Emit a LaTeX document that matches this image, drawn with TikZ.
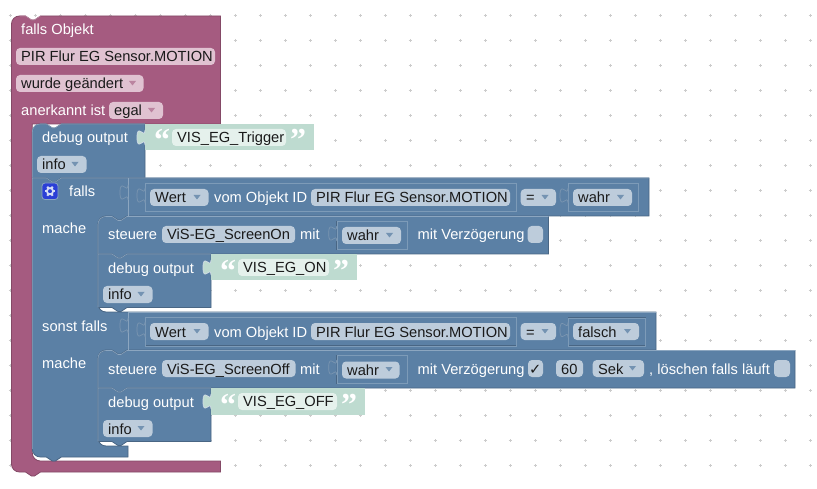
\documentclass[tikz,border=0pt]{standalone}
\usepackage{fontspec}
\setmainfont{Liberation Sans}
\newfontfamily\quotefont[Scale=1]{Liberation Serif}
\newfontfamily\checkfont{DejaVu Sans}
\definecolor{pur}{HTML}{A55B80}
\definecolor{purD}{HTML}{844966}
\definecolor{purL}{HTML}{C08CA6}
\definecolor{purF}{HTML}{E0C2D1}
\definecolor{blu}{HTML}{5B80A5}
\definecolor{bluD}{HTML}{496684}
\definecolor{bluL}{HTML}{8CA6C0}
\definecolor{bluF}{HTML}{BDCCDB}
\definecolor{grn}{HTML}{BEDBD0}
\definecolor{grnF}{HTML}{E5F1EC}
\definecolor{txtdark}{HTML}{1A1A1A}
\definecolor{gearbg}{HTML}{2B3FD6}
\definecolor{gearfg}{HTML}{D5DCF5}
\tikzset{
  wtxt/.style={anchor=base west,inner sep=0pt,text=white,font=\fontsize{14.67}{17}\selectfont},
  ktxt/.style={anchor=base west,inner sep=0pt,text=txtdark,font=\fontsize{14.67}{17}\selectfont},
  qtxt/.style={anchor=base west,inner sep=0pt,text=white,font=\quotefont\bfseries\fontsize{32}{32}\selectfont},
  ptfill/.style={fill=pur,draw=purD,line width=.8pt},
  blfill/.style={fill=blu,draw=bluD,line width=.8pt},
  ltline/.style={draw=bluL,line width=.6pt},
  ddp/.style={fill=pur!75!white},
  ddb/.style={fill=blu!85!white},
}
\newcommand{\notchLR}[2]{-- (#1+14,#2) -- (#1+20,#2+4) -- (#1+23,#2+4) -- (#1+29,#2)}
\newcommand{\notchRL}[2]{-- (#1+29,#2) -- (#1+23,#2+4) -- (#1+20,#2+4) -- (#1+14,#2)}
\newcommand{\tabpath}[2]{(#1,#2) .. controls (#1,#2+10) and (#1-8,#2-8) .. (#1-8,#2+7.5) .. controls (#1-8,#2+23) and (#1,#2+5) .. (#1,#2+15)}
\newcommand{\stackb}[4]{% left,right,top,bottom
  \path[blfill] (#1,#3+8) .. controls (#1,#3+3.5) and (#1+3.5,#3) .. (#1+8,#3) \notchLR{#1}{#3} -- (#2,#3) -- (#2,#4) \notchRL{#1}{#4} -- (#1,#4) -- cycle;
  \draw[ltline] (#1,#4) -- (#1,#3+8) .. controls (#1,#3+3.5) and (#1+3.5,#3) .. (#1+8,#3) \notchLR{#1}{#3} -- (#2,#3);
}
\newcommand{\flatb}[4]{% square top-left variant
  \path[blfill] (#1,#3) \notchLR{#1}{#3} -- (#2,#3) -- (#2,#4) \notchRL{#1}{#4} -- (#1,#4) -- cycle;
  \draw[ltline] (#1,#4) -- (#1,#3) \notchLR{#1}{#3} -- (#2,#3);
}
\newcommand{\fld}[4][bluF]{\fill[#1,rounded corners=4pt] (#2,#4) rectangle (#3,#4+17);}
\newcommand{\arr}[3][ddb]{\fill[#1] (#2-3.5,#3-2) -- (#2+3.5,#3-2) -- (#2,#3+2.5) -- cycle;}
\newcommand{\valrect}[4]{%
  \draw[bluD,line width=.7pt] (#1,#3) rectangle (#2,#4);
  \draw[bluL!70!blu,line width=.5pt] (#1+.7,#3+.7) rectangle (#2+.7,#4+.7);
  \path[fill=blu,draw=bluL!75!bluD,line width=.7pt] \tabpath{#1}{#3+5};
}
\newcommand{\greenb}[6]{% left,right,top,field right,name,text
  \fill[grn] (#1,#3) rectangle (#2,#3+26.5);
  \path[fill=grn,draw=bluL!40!white,line width=.7pt] \tabpath{#1}{#3+6};
  \node[qtxt] (#5a) at (#1+9,#3+27) {“};
  \fld[grnF]{#1+27}{#4}{#3+5}
  \node[ktxt] (#5) at (#1+32,#3+18.5) {#6};
  \node[qtxt] (#5b) at (#4+4,#3+27) {”};
}
\begin{document}
\begin{tikzpicture}[x=1pt,y=-1pt]
\useasboundingbox (0,0) rectangle (817,489);
\fill[white] (0,0) rectangle (817,489);
% grid
\foreach \gx in {10,35,...,810}{\foreach \gy in {15.5,40.5,...,490}{
  \draw[black!20,line width=.6pt] (\gx-1.5,\gy) -- (\gx+1.5,\gy) (\gx,\gy-1.5) -- (\gx,\gy+1.5);}}
% purple block
\path[ptfill] (11.5,24) .. controls (11.5,19.5) and (15,16) .. (19.5,16) \notchLR{11.5}{16} -- (220.5,16) -- (220.5,124) -- (32.3,124) -- (32.3,453) .. controls (32.3,457.5) and (36,461) .. (40.3,461) -- (220.5,461) -- (220.5,472) \notchRL{11.5}{472} -- (19.5,472) .. controls (15,472) and (11.5,468.5) .. (11.5,464) -- cycle;
\draw[purL,line width=.6pt] (19.5,16) \notchLR{11.5}{16};
\node[wtxt] (t1) at (21,35) {falls Objekt};
\fld[purF]{16}{215}{48}
\node[ktxt] (t2) at (21,62) {PIR Flur EG Sensor.MOTION};
\fld[purF]{16}{143.5}{75}
\node[ktxt] (t3) at (21,89) {wurde geändert};
\arr[ddp]{132.5}{83}
\node[wtxt] (t4) at (21,116) {anerkannt ist};
\fld[purF]{109}{163}{102}
\node[ktxt] (t5) at (114,116) {egal};
\arr[ddp]{151.5}{110}
% debug 1
\stackb{32.3}{145}{124}{178}
\greenb{145}{314}{124}{286}{s1}{VIS\_EG\_Trigger}
\node[wtxt] (d1) at (42,143) {debug output};
\fld{37}{86.5}{156}
\node[ktxt] (d1i) at (42,170) {info};
\arr{75}{164}
% falls block
\path[blfill] (32.3,178) \notchLR{32.3}{178} -- (649,178) -- (649,216) \notchRL{98}{216} -- (106,216) .. controls (101.5,216) and (98,219.5) .. (98,224) -- (98,304) .. controls (98,308.5) and (101.5,312) .. (106,312) -- (656,312) -- (656,350) \notchRL{98}{350} -- (106,350) .. controls (101.5,350) and (98,353.5) .. (98,358) -- (98,438) .. controls (98,442.5) and (101.5,446) .. (106,446) -- (128,446) -- (128,457) \notchRL{32.3}{457} -- (40.3,457) .. controls (36,457) and (32.3,453.5) .. (32.3,449) -- cycle;
\draw[ltline] (32.3,449) -- (32.3,178) \notchLR{32.3}{178} -- (649,178);
\draw[ltline] (128,312) -- (656,312);
\draw[bluL,line width=.7pt] (128,178) -- (128,216) (128,312) -- (128,350);
\path[fill=blu,draw=bluL!75!bluD,line width=.7pt] \tabpath{128}{185};
\path[fill=blu,draw=bluL!75!bluD,line width=.7pt] \tabpath{128}{318};
% gear
\fill[gearbg,rounded corners=3pt,draw=bluL,line width=.8pt] (42,183) rectangle (58,199.5);
\foreach \a in {0,60,...,300}{\draw[gearfg,line width=2pt] (50,191.2) ++(\a:2.5) -- ++(\a:2.8);}
\draw[gearfg,line width=1.8pt] (50,191.2) circle (3.1pt);
\node[wtxt] (f1) at (69,197) {falls};
% condition 1
\valrect{145}{516}{183}{211}
\fld{150}{208.5}{189}
\node[ktxt] (c1a) at (155,203) {Wert};
\arr{197}{197}
\node[wtxt] (c1b) at (214,203) {vom Objekt ID};
\fld{311}{510}{189}
\node[ktxt] (c1c) at (316,203) {PIR Flur EG Sensor.MOTION};
\fld{520.7}{556}{189}
\node[ktxt] (c1d) at (526,203) {=};
\arr{545}{197}
\valrect{568}{638}{183}{211}
\fld{573}{632}{189}
\node[ktxt] (c1e) at (578,203) {wahr};
\arr{620.5}{197}
\node[wtxt] (m1) at (42,234) {mache};
% steuere 1
\stackb{98}{548.5}{216.5}{254}
\node[wtxt] (s1t) at (108,240) {steuere};
\fld{162}{295}{226}
\node[ktxt] (s1n) at (167,240) {ViS-EG\_ScreenOn};
\node[wtxt] (s1m) at (300,240) {mit};
\valrect{336.7}{407}{221}{249}
\fld{342}{401}{227}
\node[ktxt] (s1w) at (347,241) {wahr};
\arr{389.5}{235}
\node[wtxt] (s1v) at (417.5,240) {mit Verzögerung};
\fill[bluF,rounded corners=4pt] (527.7,226) rectangle (543,243);
% debug 2
\flatb{98}{211}{254}{307.5}
\greenb{211}{357}{254}{329}{s2}{VIS\_EG\_ON}
\node[wtxt] (d2) at (108,273) {debug output};
\fld{103}{152.5}{286}
\node[ktxt] (d2i) at (108,300) {info};
\arr{141}{294}
% sonst falls
\node[wtxt] (f2) at (42,331) {sonst falls};
\valrect{145}{516}{317}{345.5}
\fld{150}{208.5}{323}
\node[ktxt] (c2a) at (155,337) {Wert};
\arr{197}{331}
\node[wtxt] (c2b) at (214,337) {vom Objekt ID};
\fld{311}{510}{323}
\node[ktxt] (c2c) at (316,337) {PIR Flur EG Sensor.MOTION};
\fld{520.7}{556}{323}
\node[ktxt] (c2d) at (526,337) {=};
\arr{545}{331}
\valrect{568}{645}{317.5}{345.5}
\fld{573}{639}{323}
\node[ktxt] (c2e) at (578,337) {falsch};
\arr{627.5}{331}
\node[wtxt] (m2) at (42,368) {mache};
% steuere 2
\stackb{98}{795}{350.5}{388}
\node[wtxt] (s2t) at (108,374) {steuere};
\fld{162}{295.5}{360}
\node[ktxt] (s2n) at (167,374) {ViS-EG\_ScreenOff};
\node[wtxt] (s2m) at (300,374) {mit};
\valrect{336.7}{407}{355}{383}
\fld{342}{399.5}{361.5}
\node[ktxt] (s2w) at (347,375) {wahr};
\arr{389}{369}
\node[wtxt] (s2v) at (417.5,374) {mit Verzögerung};
\fill[bluF,rounded corners=4pt] (528,360) rectangle (543,377);
\node[anchor=base west,inner sep=0pt,text=txtdark,font=\checkfont\fontsize{14.67}{17}\selectfont] (s2c) at (529,374) {✓};
\fld{556}{583}{360}
\node[ktxt] (s2s) at (561,374) {60};
\fld{592.7}{644}{360}
\node[ktxt] (s2u) at (598,374) {Sek};
\arr{632.5}{368}
\node[wtxt] (s2l) at (649,374) {, löschen falls läuft};
\fill[bluF,rounded corners=4pt] (774,360) rectangle (790,377);
% debug 3
\flatb{98}{211}{388}{441.5}
\greenb{211}{365}{388}{337}{s3}{VIS\_EG\_OFF}
\node[wtxt] (d3) at (108,407) {debug output};
\fld{103}{152.5}{420}
\node[ktxt] (d3i) at (108,434) {info};
\arr{141}{428}
\end{tikzpicture}
\end{document}
